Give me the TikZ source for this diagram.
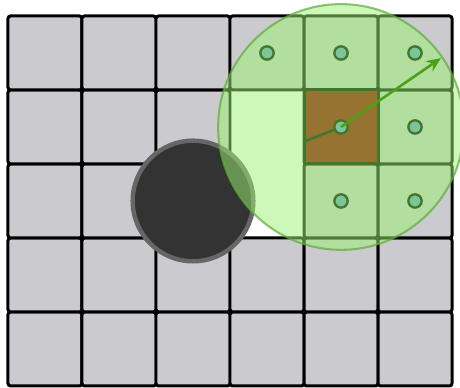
\documentclass[tikz,border=0pt]{standalone}
\usetikzlibrary{arrows.meta}
\definecolor{cellgray}{RGB}{203,203,207}
\definecolor{ringfill}{RGB}{155,242,115}
\definecolor{ringline}{RGB}{95,170,60}
\definecolor{darkgrn}{RGB}{68,118,45}
\definecolor{arrowgrn}{RGB}{78,160,24}
\definecolor{dotfill}{RGB}{122,198,152}
\definecolor{brownish}{RGB}{150,115,48}

\begin{document}
\begin{tikzpicture}[>={Stealth[length=5.5pt,width=4.8pt]},
 cell/.style={draw=black,line width=1.15pt,rounded corners=1pt,fill=cellgray},
 dot/.style={circle,draw=darkgrn,line width=0.9pt,fill=dotfill,minimum size=0.18cm,inner sep=0pt}]
\useasboundingbox (-0.108,-0.014) rectangle (6.108,5.216);
% grid, empty cells left out
\foreach \x in {0,...,5}
  \foreach \y in {0,...,4} {
    \pgfmathtruncatemacro\skipit{(\x==3 && (\y==2 || \y==3)) || (\x==2 && \y==2)}
    \ifnum\skipit=0 \draw[cell] (\x,\y) rectangle ++(1,1); \fi
  }
% obstacle
\draw[line width=1.7pt,draw=black!60,fill=black!80] (2.5,2.5) circle (0.815);
% search radius
\draw[draw=ringline,fill=ringfill,fill opacity=0.5,draw opacity=0.7,line width=0.8pt] (4.5,3.5) circle (1.66);
\draw[line width=1.15pt,draw=darkgrn,fill=brownish] (4,3) rectangle (5,4);
% neighbour centres
\foreach \n/\x/\y in {n1/3.5/4.5,n2/4.5/4.5,n3/5.5/4.5,n4/5.5/3.5,n5/4.5/2.5,n6/5.5/2.5}
  \node[dot] (\n) at (\x,\y) {};
\node[dot] (c) at (4.5,3.5) {};
\coordinate (w) at (4,3.3);
\coordinate (tip) at (5.85,4.43);
\draw[darkgrn,line width=1pt] (w) -- (c);
\draw[->,arrowgrn,line width=1pt] (c.center) -- (tip);
\end{tikzpicture}
\end{document}
